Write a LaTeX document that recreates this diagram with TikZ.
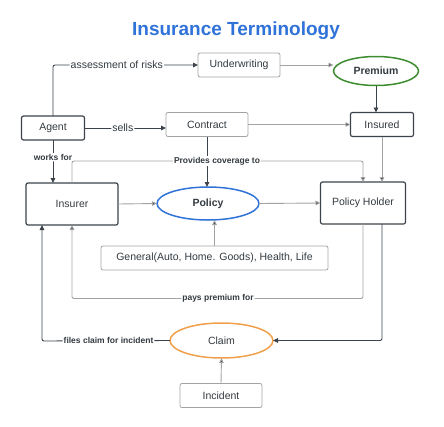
\documentclass[tikz,border=0pt]{standalone}
\usepackage{fontspec}
\setmainfont{Liberation Sans}
\usetikzlibrary{arrows.meta,shapes.geometric}
\definecolor{inkdark}{HTML}{3C434C}
\definecolor{inkgray}{HTML}{A3A3A3}
\definecolor{txt}{HTML}{333A40}
\definecolor{titleblue}{HTML}{2F72D8}
\definecolor{premgreen}{HTML}{3D8C2F}
\definecolor{claimorange}{HTML}{F0A04B}
\begin{document}
\begin{tikzpicture}[x=1pt,y=-1pt,inner sep=0pt,outer sep=0pt,
  font=\fontsize{10.5}{12}\selectfont,text=txt,
  plainbox/.style={draw=inkgray,rectangle,rounded corners=2pt,line width=0.8pt,minimum width=82pt,minimum height=24pt},
  darkbox/.style={draw=inkdark,rectangle,rounded corners=2pt,line width=1.2pt,minimum width=63pt,minimum height=24pt},
  oval/.style={ellipse,line width=1.5pt,font=\fontsize{10.5}{12}\selectfont\bfseries},
  tag/.style={fill=white,inner sep=1pt,font=\fontsize{8.5}{10}\selectfont\bfseries},
  lighttag/.style={fill=white,inner sep=1pt},
  link/.style={draw=inkdark,line width=0.9pt,rounded corners=2pt,-{Triangle[length=5pt,width=4.5pt]}},
  faint/.style={draw=inkgray,line width=0.9pt,rounded corners=2pt,-{Triangle[length=5pt,width=4.5pt,fill=inkdark]}}]
\useasboundingbox (0,0) rectangle (444,426);
\node[font=\fontsize{19}{22}\selectfont\bfseries,text=titleblue] (title) at (236,31) {Insurance Terminology};
% nodes
\node[plainbox] (Underwriting) at (239,65) {Underwriting};
\node[oval,draw=premgreen,minimum width=85pt,minimum height=29pt] (Premium) at (376,71) {Premium};
\node[darkbox] (Agent) at (53,128) {Agent};
\node[plainbox] (Contract) at (207,124.5) {Contract};
\node[darkbox] (Insured) at (382,124.5) {Insured};
\node[darkbox,minimum width=92pt,minimum height=42pt] (Insurer) at (72,204) {Insurer};
\node[oval,draw=titleblue,minimum width=102pt,minimum height=33pt] (Policy) at (208,203.5) {Policy};
\node[darkbox,minimum width=85pt,minimum height=42pt] (PolicyHolder) at (363,203) {Policy Holder};
\node[plainbox,minimum width=227pt] (General) at (214.5,258) {General(Auto, Home. Goods), Health, Life};
\node[oval,draw=claimorange,font=\fontsize{10.5}{12}\selectfont,minimum width=103pt,minimum height=35pt] (Claim) at (221.5,340.5) {Claim};
\node[plainbox] (Incident) at (221,395.5) {Incident};
\coordinate (cover) at (217,161);
\coordinate (pays) at (218,298.5);
\coordinate (files) at (42,341);
% connectors
\draw[link] (Agent.north) |- node[lighttag,pos=0.72] {assessment of risks} (Underwriting.west);
\draw[faint] (Underwriting.east) -- (Underwriting.east -| Premium.west);
\draw[link] (Premium.south) -- (Premium.south |- Insured.north);
\draw[link] (Agent.east) -- node[lighttag,pos=0.47] {sells} (Agent.east -| Contract.west);
\draw[faint] (Contract.east) -- (Insured.west);
\draw[link] (Agent.south) -- node[tag,pos=0.4] {works for} (Agent.south |- Insurer.north);
\draw[link] (Contract.south) -- (Contract.south |- Policy.north);
\draw[faint] (Insurer.north) |- (cover) node[tag] {Provides coverage to} -| (PolicyHolder.north);
\draw[faint] (Insured.south) -- (Insured.south |- PolicyHolder.north);
\draw[faint] (Insurer.east) -- (Policy.west);
\draw[faint] (Policy.east) -- (PolicyHolder.west);
\draw[faint] (General.north) -- (General.north |- Policy.south);
\draw[faint] (PolicyHolder.south) |- (pays) node[tag] {pays premium for} -| (Insurer.south);
\draw[link] (PolicyHolder.south -| Insured.south) |- (Claim.east);
\draw[link] (Claim.west) -- node[tag,pos=0.48] {files claim for incident} (files) -- (files |- Insurer.south);
\draw[faint] (Incident.north) -- (Claim.south);
\end{tikzpicture}
\end{document}
